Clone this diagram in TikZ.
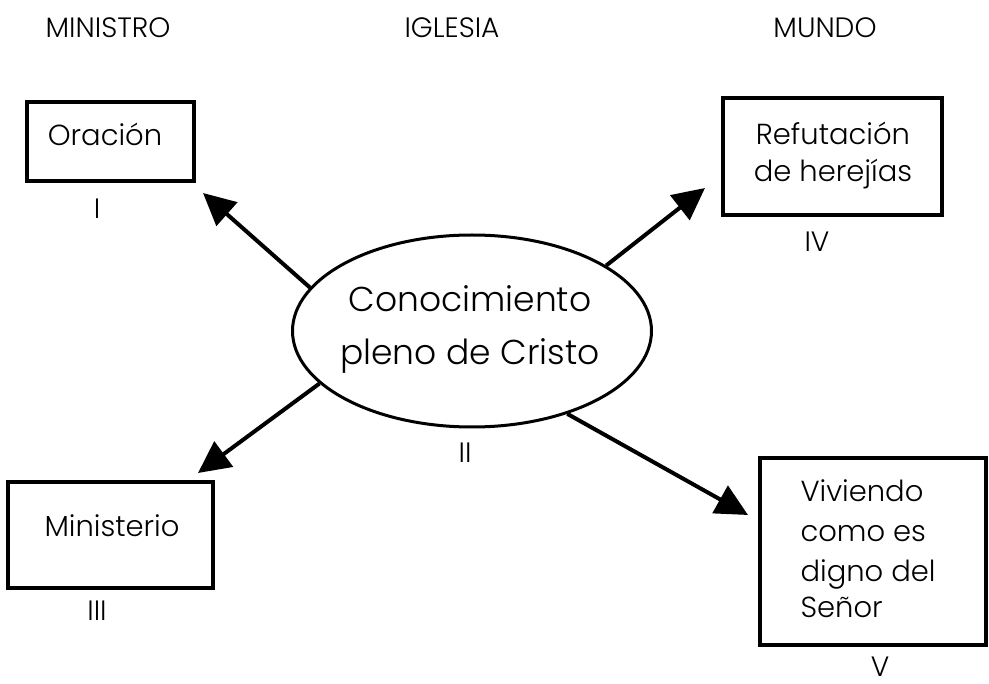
\documentclass[tikz,border=0pt]{standalone}
\usepackage{fontspec}
\setmainfont{Poppins}[UprightFont={* Light}]
\usetikzlibrary{arrows.meta,shapes.geometric}
\tikzset{
  box/.style={draw, line width=4pt, rectangle, inner sep=0pt},
  oval/.style={draw, line width=3pt, ellipse, inner sep=0pt},
  conn/.style={line width=4pt, -{Triangle[length=32pt,width=31pt]}},
  head/.style={anchor=base, font=\fontsize{28}{32}\selectfont},
  txt/.style={anchor=base, font=\fontsize{29}{40}\selectfont},
  big/.style={anchor=base, font=\fontsize{34.5}{40}\selectfont},
  num/.style={anchor=base, font=\fontsize{28}{30}\selectfont}
}
\begin{document}
\begin{tikzpicture}[x=1pt,y=-1pt]
\useasboundingbox (0,0) rectangle (989,684);
% headers
\node[head] (h1) at (108,38) {MINISTRO};
\node[head] (h2) at (452,38) {IGLESIA};
\node[head] (h3) at (825,38) {MUNDO};
% boxes
\node[box, minimum width=167pt, minimum height=79pt] (ora) at (110.5,141.5) {};
\node[txt] (oraT) at (105,146) {Oración};
\node[num] (n1) at (97,219) {I};
\node[box, minimum width=219pt, minimum height=117pt] (ref) at (832.5,156.5) {};
\node[txt] (refT1) at (833,145) {Refutación};
\node[txt] (refT2) at (833,182) {de herejías};
\node[num] (n4) at (817,252) {IV};
\node[box, minimum width=205pt, minimum height=106pt] (min) at (110.5,535) {};
\node[txt] (minT) at (112,537) {Ministerio};
\node[num] (n3) at (97,620) {III};
\node[box, minimum width=226pt, minimum height=187pt] (viv) at (873,551.5) {};
\node[txt, anchor=base west] (vivT1) at (797,502) {Viviendo};
\node[txt, anchor=base west] (vivT2) at (797,542) {como es};
\node[txt, anchor=base west] (vivT3) at (797,582) {digno del};
\node[txt, anchor=base west] (vivT4) at (797,618) {Señor};
\node[num] (n5) at (880,676) {V};
% center
\node[oval, minimum width=359pt, minimum height=192pt] (ell) at (472,331) {};
\node[big] (cT1) at (470,312) {Conocimiento};
\node[big] (cT2) at (470,365) {pleno de Cristo};
\node[num] (n2) at (465,463) {II};
% arrow tips
\coordinate (tipI) at (203,193);
\coordinate (tipIII) at (198,473);
\coordinate (tipIV) at (705,188);
\coordinate (tipV) at (748,515);
\draw[conn] (ell.165.7) -- (tipI);
\draw[conn] (ell.199.4) -- (tipIII);
\draw[conn] (ell.26.4) -- (tipIV);
\draw[conn] (ell.319.4) -- (tipV);
\end{tikzpicture}
\end{document}
